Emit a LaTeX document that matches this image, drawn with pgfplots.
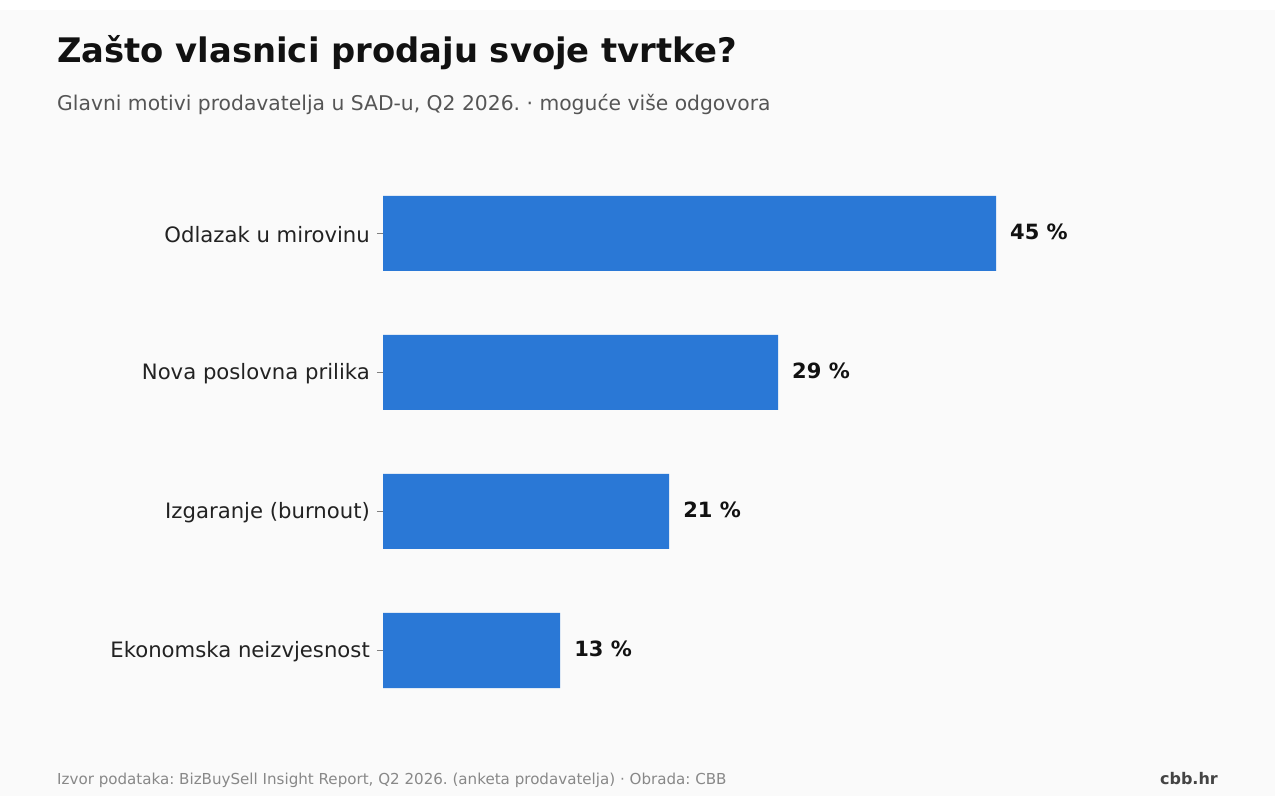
\documentclass[border=0pt]{standalone}
\usepackage{pgfplots}
\pgfplotsset{compat=1.18}
\usepackage{fontspec}
\setmainfont{DejaVu Sans}
\frenchspacing
\definecolor{bgc}{HTML}{FAFAFA}
\definecolor{barc}{HTML}{2A78D6}
\definecolor{titc}{HTML}{111111}
\definecolor{subc}{HTML}{555555}
\definecolor{labc}{HTML}{222222}
\definecolor{footc}{HTML}{888888}
\definecolor{brandc}{HTML}{444444}
\begin{document}
\begin{tikzpicture}[x=1pt,y=1pt]
\fill[white] (0,0) rectangle (1275,796);
\fill[bgc] (0,0) rectangle (1275,786);
\node[anchor=base west, inner sep=0pt, text=titc] at (57,733) {\fontsize{33.8}{40}\selectfont\bfseries Zašto vlasnici prodaju svoje tvrtke?};
\node[anchor=base west, inner sep=0pt, text=subc] at (57,685) {\fontsize{20.3}{24}\selectfont Glavni motivi prodavatelja u SAD-u, Q2 2026. · moguće više odgovora};
\node[anchor=base west, inner sep=0pt, text=footc] at (57,12) {\fontsize{15.1}{18}\selectfont Izvor podataka: BizBuySell Insight Report, Q2 2026. (anketa prodavatelja) · Obrada: CBB};
\node[anchor=base east, inner sep=0pt, text=brandc] at (1218,12) {\fontsize{16}{19}\selectfont\bfseries cbb.hr};
\begin{axis}[
  at={(383pt,76pt)}, anchor=south west,
  scale only axis, width=613pt, height=556pt,
  xmin=0, xmax=45, ymin=-0.5, ymax=3.5,
  axis x line=none,
  axis y line*=left,
  y axis line style={draw=none},
  ytick={0,1,2,3},
  yticklabels={Ekonomska neizvjesnost, Izgaranje (burnout), Nova poslovna prilika, Odlazak u mirovinu},
  tick align=outside,
  major tick length=6pt,
  ytick style={draw=gray, line width=0.8pt},
  yticklabel style={font=\fontsize{21.2}{25}\selectfont, text=labc, inner sep=0pt, xshift=-7pt, yshift=-1pt},
  xbar, bar width=75pt,
  clip=false,
  point meta=x,
  /pgf/number format/assume math mode=true,
  nodes near coords={\pgfmathprintnumber{\pgfplotspointmeta} \%},
  nodes near coords style={font=\fontsize{21}{25}\selectfont\bfseries, text=titc, anchor=west, xshift=14pt, yshift=1.5pt, inner sep=0pt},
]
\addplot[draw=none, fill=barc] coordinates {(13,0) (21,1) (29,2) (45,3)};
\end{axis}
\end{tikzpicture}
\end{document}
